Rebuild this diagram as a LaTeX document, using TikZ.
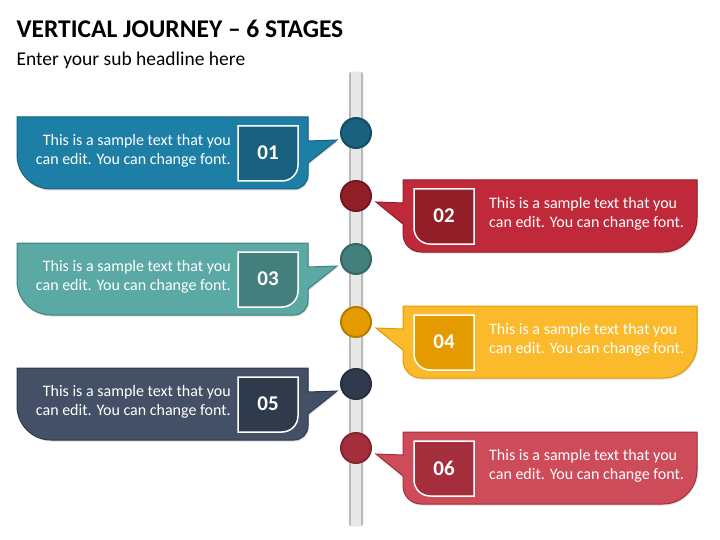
\documentclass[tikz,border=0pt]{standalone}
\usepackage{fontspec}
\setmainfont{Carlito}
\usetikzlibrary{shadows}

\definecolor{c1}{HTML}{1E7FA6}\definecolor{d1}{HTML}{19617E}
\definecolor{c2}{HTML}{C0293A}\definecolor{d2}{HTML}{921E27}
\definecolor{c3}{HTML}{5BA9A5}\definecolor{d3}{HTML}{437F7C}
\definecolor{c4}{HTML}{FBB92C}\definecolor{d4}{HTML}{E49B00}
\definecolor{c5}{HTML}{435066}\definecolor{d5}{HTML}{2F3A4C}
\definecolor{c6}{HTML}{CE4B5A}\definecolor{d6}{HTML}{A52E3D}

\newcommand{\sampletext}{This is a sample text that you\\can edit. You can change font.}

\begin{document}
\begin{tikzpicture}[x=1pt,y=-1pt,
  bubble/.style={line width=1pt,drop shadow={opacity=0.25,shadow xshift=1pt,shadow yshift=-1.5pt}},
  num_text/.style={text=white,font=\fontsize{21}{21}\selectfont\bfseries},
  body_text/.style={text=white,font=\fontsize{16}{19}\selectfont,inner sep=0pt},
  dot_node/.style={circle,minimum size=30pt,line width=2pt,inner sep=0pt}]
\useasboundingbox (0,0) rectangle (720,540);

% title
\node[anchor=west,font=\fontsize{25.5}{26}\selectfont\bfseries] (title) at (13,29) {VERTICAL JOURNEY -- 6 STAGES};
\node[anchor=west,font=\fontsize{19.5}{20}\selectfont] (subtitle) at (13,60) {Enter your sub headline here};

% axis
\fill[gray!55,rounded corners=2pt] (349,72) rectangle (363,526);
\fill[gray!18] (351,72) rectangle (361,526);

% left stages
\foreach \y/\c/\n in {117/1/01,243/3/03,368/5/05}{
  \draw[bubble,fill=c\c,draw=d\c] (17,\y) -- (308,\y) -- (308,\y+24) -- (337,\y+23) -- (308,\y+46)
    [rounded corners=14] -- (308,\y+72) [rounded corners=34] -- (17,\y+72) [sharp corners] -- (17,\y) -- cycle;
  \draw[fill=d\c,draw=white,line width=1.5pt] (238,\y+9) -- (298,\y+9) [rounded corners=16] -- (298,\y+64) [sharp corners] -- (238,\y+64) -- cycle;
  \node[num_text] (num\n) at (268,\y+36) {\n};
  \node[body_text,align=right,anchor=east] (text\n) at (231,\y+34) {\sampletext};
  \node[dot_node,fill=d\c,draw=d\c!80!black] (dot\n) at (356,\y+16) {};
}

% right stages
\foreach \y/\c/\n in {180/2/02,306/4/04,432/6/06}{
  \draw[bubble,fill=c\c,draw=d\c] (697,\y) -- (403,\y) -- (403,\y+23) -- (376,\y+22) -- (403,\y+44)
    [rounded corners=18] -- (403,\y+72) [rounded corners=34] -- (697,\y+72) [sharp corners] -- (697,\y) -- cycle;
  \draw[fill=d\c,draw=white,line width=1.5pt] (474,\y+9) -- (414,\y+9) [rounded corners=16] -- (414,\y+64) [sharp corners] -- (474,\y+64) -- cycle;
  \node[num_text] (num\n) at (444,\y+36) {\n};
  \node[body_text,align=left,anchor=west] (text\n) at (489,\y+34) {\sampletext};
  \node[dot_node,fill=d\c,draw=d\c!80!black] (dot\n) at (356,\y+16) {};
}
\end{tikzpicture}
\end{document}
